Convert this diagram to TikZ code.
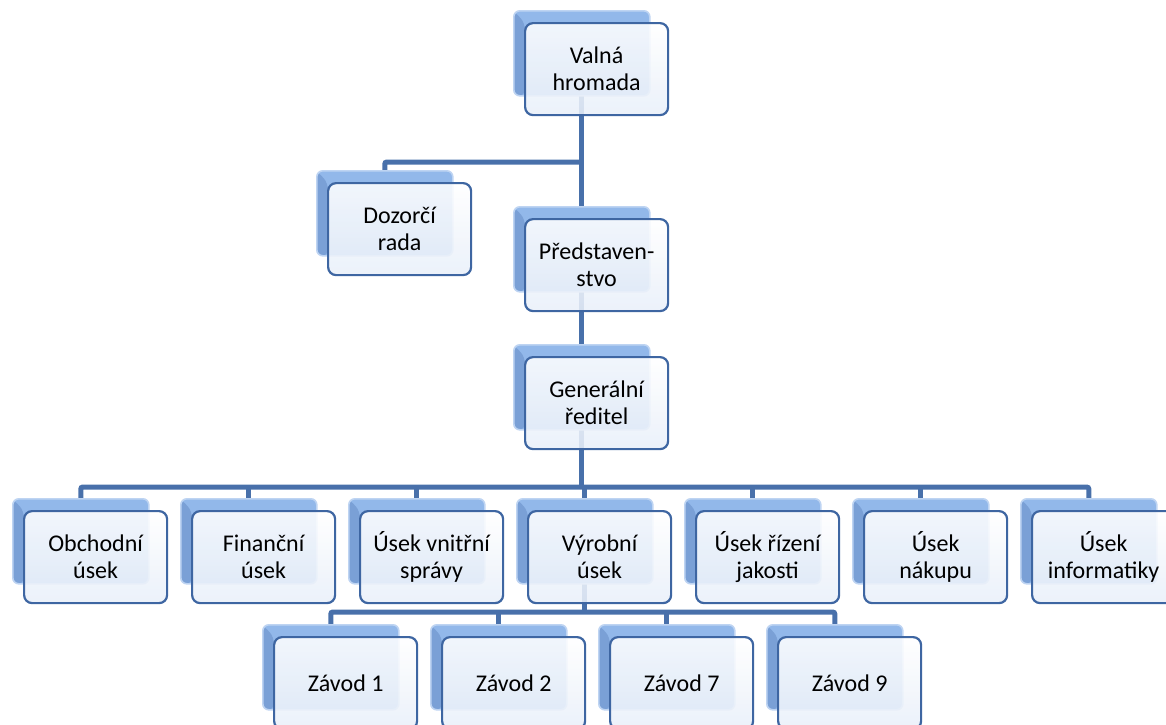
\documentclass[tikz,border=0pt]{standalone}
\usepackage{fontspec}
\setmainfont{Carlito}
\usetikzlibrary{backgrounds,positioning}
\definecolor{orgline}{RGB}{72,112,170}
\definecolor{frame}{RGB}{62,102,162}
\definecolor{paper}{RGB}{232,239,249}
\definecolor{back}{RGB}{146,184,234}
\definecolor{bevel}{RGB}{122,160,214}

\begin{document}
\begin{tikzpicture}[x=0.5pt,y=-0.5pt,
  backcard/.style={fill=back,draw=back!60!white,line width=0.8pt,rounded corners=3pt,
    minimum width=68pt,minimum height=42.5pt,inner sep=0pt,
    path picture={\fill[bevel] (path picture bounding box.north west) -- ++(5.5pt,-6pt)
      |- (path picture bounding box.south west) -- cycle;}},
  card/.style={draw=frame,line width=1.1pt,rounded corners=4pt,top color=white,bottom color=paper,
    fill opacity=0.88,text opacity=1,minimum width=71.5pt,minimum height=46pt,inner sep=2pt,
    align=center,font=\fontsize{12}{13.6}\selectfont,anchor=north west},
  wire/.style={draw=orgline,line width=2.5pt,rounded corners=1pt}]
\useasboundingbox (0,0) rectangle (1166,724);
% top of the chart
\node[backcard,anchor=north west] (vh-b) at (513,10) {};
\node[card] (vh) at ([shift={(11,12)}]vh-b.north west) {Valná\\hromada};
\node[backcard,anchor=north west] (dr-b) at (316,170) {};
\node[card] (dr) at ([shift={(11,12)}]dr-b.north west) {Dozorčí\\rada};
\node[backcard,anchor=north west] (pr-b) at (513,206) {};
\node[card] (pr) at ([shift={(11,12)}]pr-b.north west) {Představen-\\stvo};
\node[backcard,anchor=north west] (gr-b) at (513,344) {};
\node[card] (gr) at ([shift={(11,12)}]gr-b.north west) {Generální\\ředitel};
% divisions
\node[backcard,anchor=north west] (ob-b) at (12,498) {};
\node[backcard,right=15.2pt of ob-b] (fi-b) {};
\node[backcard,right=15.2pt of fi-b] (uv-b) {};
\node[backcard,right=15.2pt of uv-b] (vy-b) {};
\node[backcard,right=15.2pt of vy-b] (ur-b) {};
\node[backcard,right=15.2pt of ur-b] (un-b) {};
\node[backcard,right=15.2pt of un-b] (ui-b) {};
\node[card] (ob) at ([shift={(11,12)}]ob-b.north west) {Obchodní\\úsek};
\node[card] (fi) at ([shift={(11,12)}]fi-b.north west) {Finanční\\úsek};
\node[card] (uv) at ([shift={(11,12)}]uv-b.north west) {Úsek vnitřní\\správy};
\node[card] (vy) at ([shift={(11,12)}]vy-b.north west) {Výrobní\\úsek};
\node[card] (ur) at ([shift={(11,12)}]ur-b.north west) {Úsek řízení\\jakosti};
\node[card] (un) at ([shift={(11,12)}]un-b.north west) {Úsek\\nákupu};
\node[card] (ui) at ([shift={(11,12)}]ui-b.north west) {Úsek\\informatiky};
% plants
\node[backcard,anchor=north west] (z1-b) at (262,624) {};
\node[backcard,right=15.2pt of z1-b] (z2-b) {};
\node[backcard,right=15.2pt of z2-b] (z7-b) {};
\node[backcard,right=15.2pt of z7-b] (z9-b) {};
\node[card] (z1) at ([shift={(11,12)}]z1-b.north west) {Závod 1};
\node[card] (z2) at ([shift={(11,12)}]z2-b.north west) {Závod 2};
\node[card] (z7) at ([shift={(11,12)}]z7-b.north west) {Závod 7};
\node[card] (z9) at ([shift={(11,12)}]z9-b.north west) {Závod 9};
% connectors
\begin{scope}[on background layer]
\coordinate (fork) at (vh-b |- 0,162);
\coordinate (bus2) at (gr-b |- 0,487);
\coordinate (bus3) at (vy-b |- 0,612);
\draw[wire] (vh-b.center) -- (pr-b.center); \draw[wire] (dr-b.center) |- (fork);
\draw[wire] (pr-b.center) -- (gr-b.center);
\draw[wire] (gr-b.center) -- (bus2); \draw[wire] (ob-b.center) |- (bus2) -| (ui-b.center);
\draw[wire] (fi-b.center) -- (fi-b |- bus2); \draw[wire] (uv-b.center) -- (uv-b |- bus2);
\draw[wire] (vy-b.center) -- (vy-b |- bus2); \draw[wire] (ur-b.center) -- (ur-b |- bus2);
\draw[wire] (un-b.center) -- (un-b |- bus2);
\draw[wire] (vy-b.center) -- (bus3); \draw[wire] (z1-b.center) |- (bus3) -| (z9-b.center);
\draw[wire] (z2-b.center) -- (z2-b |- bus3); \draw[wire] (z7-b.center) -- (z7-b |- bus3);
\end{scope}
\end{tikzpicture}
\end{document}
